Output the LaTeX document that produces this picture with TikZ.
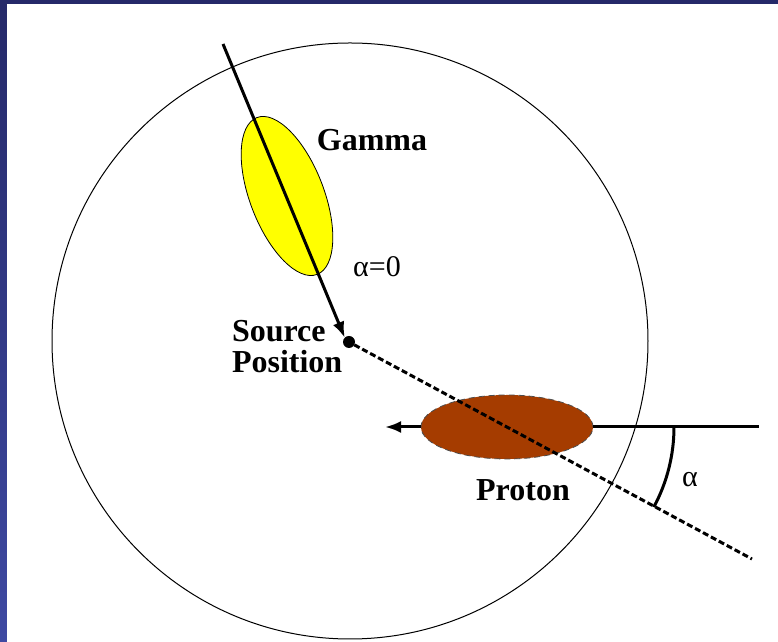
\documentclass[tikz,border=0pt]{standalone}
\usepackage{fontspec}
\setmainfont{Liberation Serif}
\usepackage{xcolor}
\usepackage{tikz}
\usetikzlibrary{shapes.geometric, positioning, arrows.meta, calc}

\definecolor{framedark}{RGB}{37,41,105}
\definecolor{framelight}{RGB}{62,73,162}
\definecolor{gammafill}{RGB}{255,255,0}
\definecolor{protonfill}{RGB}{165,60,0}

\begin{document}
\begin{tikzpicture}[
        x=0.5pt, y=0.5pt,
        every node/.style={inner sep=0pt, outer sep=0pt},
        label/.style={font=\fontsize{16}{15.5}\selectfont\bfseries},
        greek/.style={font=\fontsize{15}{18}\selectfont},
        track/.style={line width=1.5pt},
        dashtrack/.style={line width=1.5pt, dash pattern=on 3pt off 1.5pt},
        gammablob/.style={ellipse, draw, line width=0.4pt, fill=gammafill,
          minimum width=84pt, minimum height=37pt},
        protonblob/.style={ellipse, draw=black!70, densely dashed, line width=0.4pt,
          fill=protonfill, minimum width=86pt, minimum height=32pt},
        tip/.style={-{Latex[length=8pt, width=6pt]}}
      ]
        % frame and white panel
        \useasboundingbox (0,0) rectangle (778,642);
        \shade[top color=framedark, bottom color=framelight] (0,0) rectangle (778,642);
        \fill[white] (7,0) rectangle (778,638);

        % field of view
        \draw[line width=0.5pt] (350,301) circle[radius=298];

        % showers
        \node[gammablob, rotate=-69] (gamma) at (287,446) {};
        \node[protonblob] (proton) at (507,215) {};

        % source and tracks
        \coordinate (gstart) at (223,598);
        \coordinate (dend) at (752,83);
        \coordinate (pend) at (759,215);
        \coordinate (ptip) at (385,215);
        \coordinate (cross) at (505,215);
        \node[circle, fill, minimum size=6pt] (source) at (349,300) {};

        \draw[track, tip] (gstart) -- (source.north west);
        \draw[dashtrack] (source) -- (dend);
        \draw[track] (proton.east) -- (pend);
        \draw[track, tip] (proton.west) -- (ptip);
        \draw[track] ($(cross)+(169,0)$) arc[start angle=0, end angle=-28.3, radius=169];

        % labels
        \node[label] (gammatext) at (372,502) {Gamma};
        \node[greek] (alphazero) at (377,375) {α=0};
        \node[label, align=left, anchor=west] (sourcetext) at (232,295) {Source\\Position};
        \node[label] (protontext) at (523,152) {Proton};
        \node[greek] (alphatext) at (690,162) {α};
      \end{tikzpicture}
\end{document}
